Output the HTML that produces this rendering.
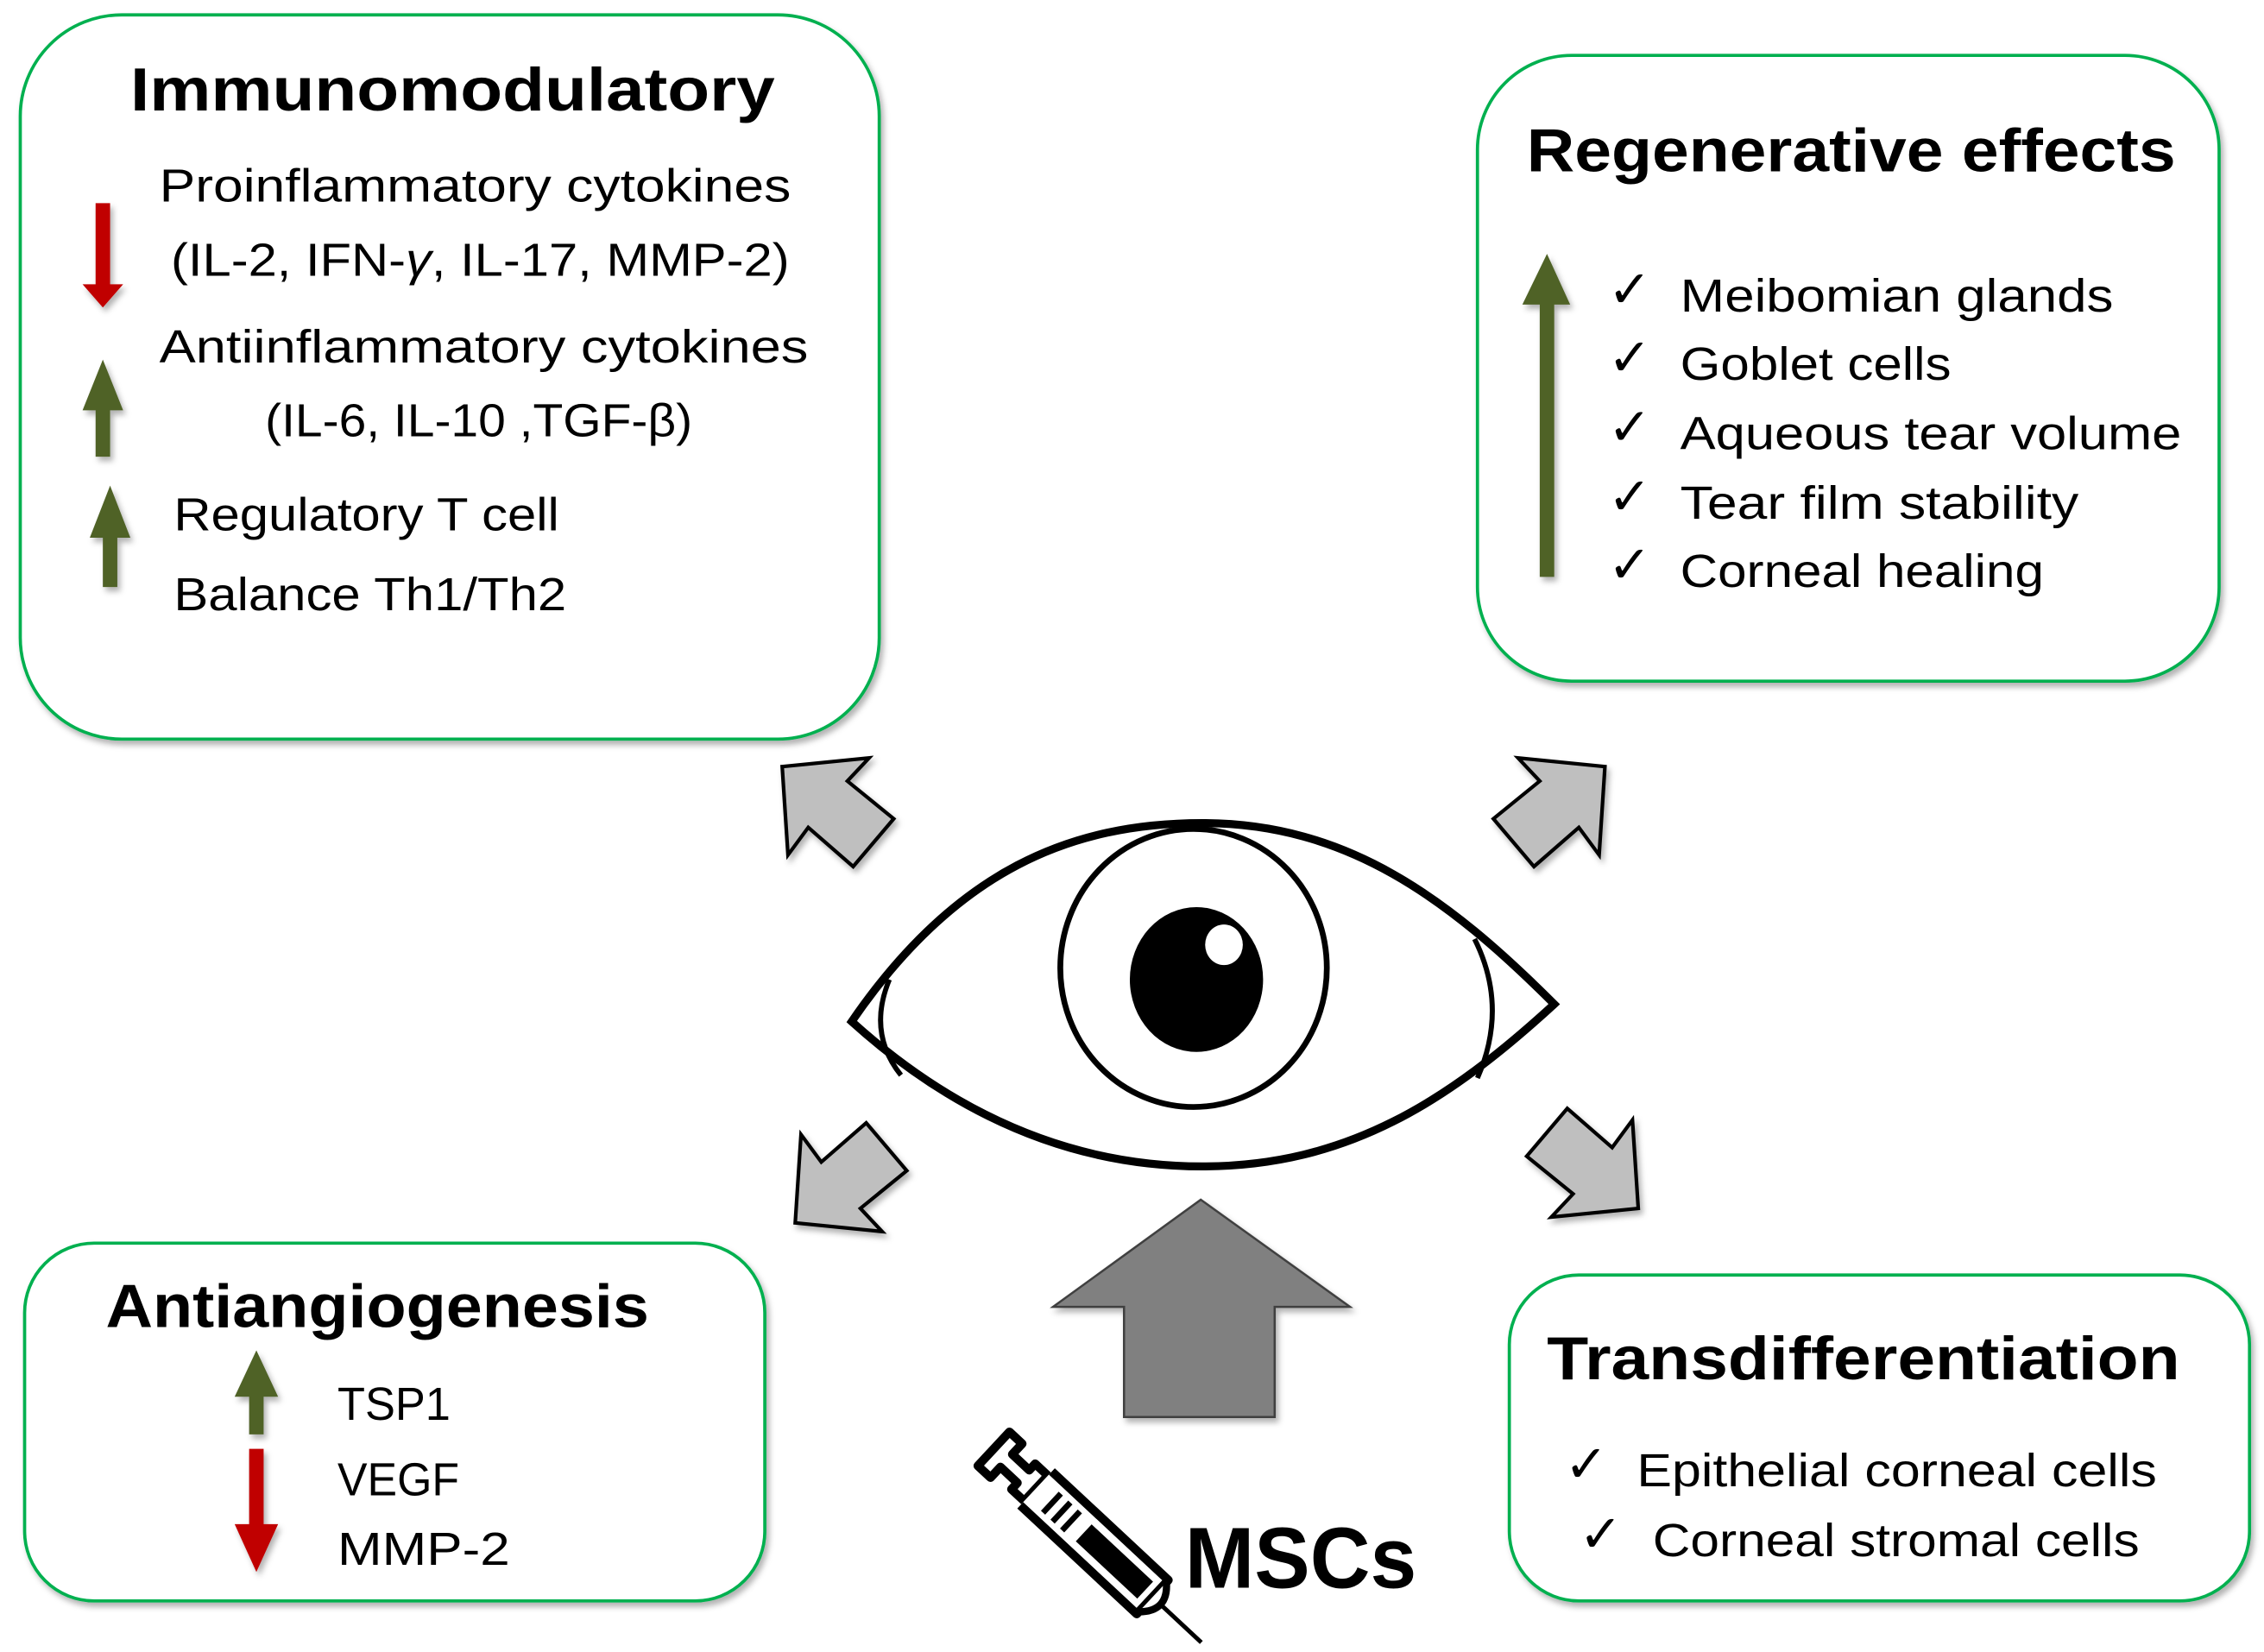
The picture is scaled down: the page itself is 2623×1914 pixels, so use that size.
<!DOCTYPE html>
<html><head><meta charset="utf-8"><style>
html,body{margin:0;padding:0;background:#fff;}
svg{display:block;}
text{font-family:"Liberation Sans",sans-serif;fill:#000;}
.t{font-weight:bold;font-size:42px;}
.b{font-size:32px;}
.ck{font-family:"DejaVu Sans",sans-serif;font-size:36px;}
</style></head><body>
<svg width="2623" height="1914" viewBox="0 0 1563 1140" xmlns="http://www.w3.org/2000/svg">
<defs>
<filter id="sh" x="-20%" y="-20%" width="140%" height="140%"><feDropShadow dx="2" dy="3" stdDeviation="2" flood-color="#000" flood-opacity="0.3"/></filter>
</defs>
<!-- boxes -->
<rect x="14" y="10" width="593" height="500" rx="70" fill="#fff" stroke="#00b050" stroke-width="2.2" filter="url(#sh)"/>
<rect x="1020" y="38" width="512" height="432" rx="65" fill="#fff" stroke="#00b050" stroke-width="2.2" filter="url(#sh)"/>
<rect x="17" y="858" width="511" height="247" rx="48" fill="#fff" stroke="#00b050" stroke-width="2.2" filter="url(#sh)"/>
<rect x="1042" y="880" width="511" height="225" rx="48" fill="#fff" stroke="#00b050" stroke-width="2.2" filter="url(#sh)"/>

<!-- Immunomodulatory -->
<text class="t" x="90" y="76" textLength="445" lengthAdjust="spacingAndGlyphs">Immunomodulatory</text>
<text class="b" x="110" y="139" textLength="436" lengthAdjust="spacingAndGlyphs">Proinflammatory cytokines</text>
<text class="b" x="118" y="190" textLength="427" lengthAdjust="spacingAndGlyphs">(IL-2, IFN-<tspan font-style="italic">γ</tspan>, IL-17, MMP-2)</text>
<text class="b" x="110" y="250" textLength="448" lengthAdjust="spacingAndGlyphs">Antiinflammatory cytokines</text>
<text class="b" x="183" y="301" textLength="295" lengthAdjust="spacingAndGlyphs">(IL-6, IL-10 ,TGF-β)</text>
<text class="b" x="120" y="366" textLength="266" lengthAdjust="spacingAndGlyphs">Regulatory T cell</text>
<text class="b" x="120" y="421" textLength="271" lengthAdjust="spacingAndGlyphs">Balance Th1/Th2</text>
<polygon points="66,140 76,140 76,196 85,196 71,212 57,196 66,196" fill="#c00000" filter="url(#sh)"/>
<polygon points="71,248 85,283 76,283 76,315 66,315 66,283 57,283" fill="#4f6228" filter="url(#sh)"/>
<polygon points="76,335 90,371 81,371 81,405 71,405 71,371 62,371" fill="#4f6228" filter="url(#sh)"/>

<!-- Regenerative -->
<text class="t" x="1054" y="118" textLength="448" lengthAdjust="spacingAndGlyphs">Regenerative effects</text>
<polygon points="1068,175 1084,210 1073,210 1073,398 1063,398 1063,210 1051,210" fill="#4f6228" filter="url(#sh)"/>
<g class="ck">
<text class="ck" x="1110" y="212">✓</text><text class="ck" x="1110" y="259">✓</text><text class="ck" x="1110" y="307">✓</text><text class="ck" x="1110" y="355">✓</text><text class="ck" x="1110" y="402">✓</text>
</g>
<text class="b" x="1160" y="215" textLength="299" lengthAdjust="spacingAndGlyphs">Meibomian glands</text>
<text class="b" x="1160" y="262" textLength="187" lengthAdjust="spacingAndGlyphs">Goblet cells</text>
<text class="b" x="1160" y="310" textLength="346" lengthAdjust="spacingAndGlyphs">Aqueous tear volume</text>
<text class="b" x="1160" y="358" textLength="275" lengthAdjust="spacingAndGlyphs">Tear film stability</text>
<text class="b" x="1160" y="405" textLength="251" lengthAdjust="spacingAndGlyphs">Corneal healing</text>

<!-- Antiangiogenesis -->
<text class="t" x="73" y="916" textLength="375" lengthAdjust="spacingAndGlyphs">Antiangiogenesis</text>
<polygon points="177,932 192,964 182,964 182,990 172,990 172,964 162,964" fill="#4f6228" filter="url(#sh)"/>
<polygon points="172,1000 182,1000 182,1052 192,1052 177,1085 162,1052 172,1052" fill="#c00000" filter="url(#sh)"/>
<text class="b" x="233" y="980" textLength="78" lengthAdjust="spacingAndGlyphs">TSP1</text>
<text class="b" x="233" y="1032" textLength="84" lengthAdjust="spacingAndGlyphs">VEGF</text>
<text class="b" x="233" y="1080" textLength="119" lengthAdjust="spacingAndGlyphs">MMP-2</text>

<!-- Transdifferentiation -->
<text class="t" x="1068" y="952" textLength="437" lengthAdjust="spacingAndGlyphs">Transdifferentiation</text>
<text class="ck" x="1080" y="1023">✓</text>
<text class="ck" x="1090" y="1071">✓</text>
<text class="b" x="1130" y="1026" textLength="359" lengthAdjust="spacingAndGlyphs">Epithelial corneal cells</text>
<text class="b" x="1141" y="1074" textLength="336" lengthAdjust="spacingAndGlyphs">Corneal stromal cells</text>

<!-- small gray arrows -->
<g fill="#bfbfbf" stroke="#000" stroke-width="2.5" stroke-linejoin="miter" filter="url(#sh)">
<polygon points="540,529 600,523 585,539 617,565 589,598 558,571 544,590"/>
<polygon points="1108,529 1048,523 1063,539 1031,565 1059,598 1090,571 1104,590"/>
<polygon points="549,844 609,850 594,834 626,808 598,775 567,802 553,783"/>
<polygon points="1131,834 1071,840 1086,824 1054,798 1082,765 1113,792 1127,773"/>
</g>
<!-- big up arrow -->
<polygon points="829,828 932,902 880,902 880,978 776,978 776,902 727,902" fill="#808080" stroke="#404040" stroke-width="1.5" filter="url(#sh)"/>

<!-- eye -->
<g fill="none" stroke="#000">
<path d="M588,705 C660,600 740,568 830,568 C930,568 1000,620 1073,693 C1000,760 930,805 830,805 C740,805 660,770 588,705 Z" fill="#fff" stroke-width="5.5" stroke-linejoin="miter"/>
<path d="M614,676 C604,700 606,722 622,742" stroke-width="3.5"/>
<path d="M1018,648 C1034,680 1034,712 1020,744" stroke-width="3.5"/>
<ellipse cx="824" cy="668" rx="92" ry="96" stroke-width="4"/>
</g>
<ellipse cx="826" cy="676" rx="46" ry="50" fill="#000"/>
<ellipse cx="845" cy="652" rx="13" ry="14" fill="#fff"/>

<!-- syringe -->
<g transform="translate(686,1000) rotate(43)" fill="none" stroke="#000" stroke-linejoin="round">
<path d="M0,-16 L12,-16 L12,-6 L28,-6 L28,-12 L40,-12 L40,12 L28,12 L28,6 L12,6 L12,16 L0,16 Z" stroke-width="6" fill="#fff"/>
<path d="M40,-16 L150,-16 L150,16 L40,16" stroke-width="6" fill="#fff"/>
<path d="M150,-14 Q165,0 150,14" stroke-width="5" fill="#fff"/>
<rect x="85" y="-8" width="58" height="16" fill="#000" stroke="none"/>
<line x1="55" y1="-9" x2="55" y2="9" stroke-width="4"/>
<line x1="64" y1="-9" x2="64" y2="9" stroke-width="4"/>
<line x1="73" y1="-9" x2="73" y2="9" stroke-width="4"/>
<line x1="158" y1="0" x2="196" y2="0" stroke-width="3"/>
</g>
<text x="818" y="1096" font-weight="bold" font-size="60" textLength="160" lengthAdjust="spacingAndGlyphs">MSCs</text>
</svg>
</body></html>
